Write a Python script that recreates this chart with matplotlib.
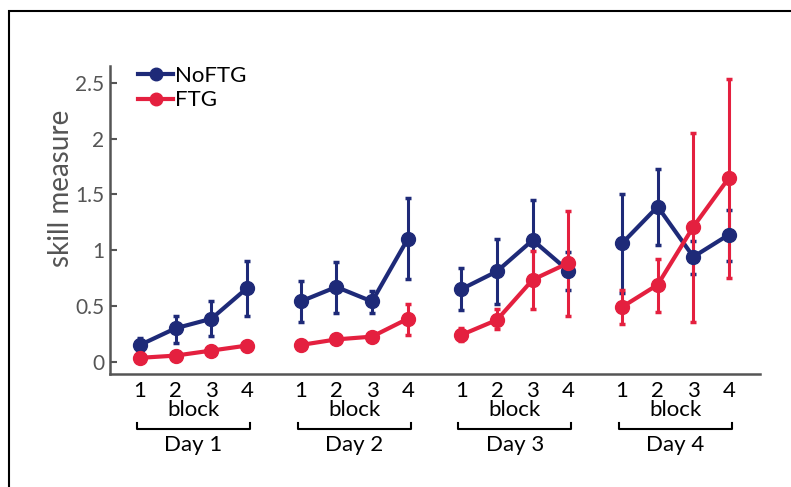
import numpy as np
import matplotlib
matplotlib.use('Agg')
import matplotlib.pyplot as plt
import matplotlib.transforms as mtransforms
from matplotlib.patches import Rectangle
from matplotlib.lines import Line2D

plt.rcParams['font.family'] = ['Lato', 'DejaVu Sans']

## data
days = ['Day 1', 'Day 2', 'Day 3', 'Day 4']
blocks = [1, 2, 3, 4]

noftg = [0.15, 0.30, 0.385, 0.66,
         0.54, 0.67, 0.54, 1.10,
         0.65, 0.81, 1.09, 0.815,
         1.06, 1.39, 0.94, 1.14]
noftg_lo = [0.09, 0.17, 0.23, 0.41,
            0.36, 0.44, 0.44, 0.74,
            0.46, 0.52, 0.74, 0.64,
            0.62, 1.05, 0.79, 0.905]
noftg_hi = [0.215, 0.41, 0.54, 0.90,
            0.72, 0.89, 0.63, 1.47,
            0.84, 1.10, 1.45, 0.985,
            1.50, 1.73, 1.085, 1.36]

ftg = [0.035, 0.055, 0.10, 0.145,
       0.15, 0.20, 0.225, 0.385,
       0.24, 0.375, 0.735, 0.885,
       0.49, 0.69, 1.21, 1.65]
ftg_lo = [0.02, 0.04, 0.08, 0.13,
          0.13, 0.18, 0.21, 0.24,
          0.19, 0.29, 0.475, 0.41,
          0.34, 0.45, 0.36, 0.75]
ftg_hi = [0.05, 0.07, 0.12, 0.16,
          0.17, 0.22, 0.24, 0.52,
          0.30, 0.47, 0.995, 1.35,
          0.645, 0.92, 2.05, 2.53]

yticks = [0, 0.5, 1, 1.5, 2, 2.5]
ytick_labels = ['0', '0.5', '1', '1.5', '2', '2.5']

blue = '#1e2a78'
red = '#e4203f'
gray = '#555555'

# x positions: 4 blocks per day, gap between days
day_gap = 4.5
X = np.array([b + d * day_gap for d in range(len(days)) for b in blocks], dtype=float)

fig = plt.figure(figsize=(7.91, 4.87), dpi=100)
ax = fig.add_axes([0.139, 0.232, 0.822, 0.6325])

# frame around the figure (only top/left visible in the original)
fig.patches.append(Rectangle((9 / 791, -0.5), 2, 0.5 + (1 - 11 / 487), transform=fig.transFigure,
                             fill=False, edgecolor='black', lw=1.5, clip_on=False))

def draw(vals, lo, hi, color):
    vals, lo, hi = np.array(vals), np.array(lo), np.array(hi)
    for d in range(len(days)):
        s = slice(d * 4, d * 4 + 4)
        ax.errorbar(X[s], vals[s], yerr=[vals[s] - lo[s], hi[s] - vals[s]],
                    color=color, lw=3, elinewidth=2.2, capsize=2.3, capthick=2.5,
                    marker='o', ms=10, mec=color)

draw(noftg, noftg_lo, noftg_hi, blue)
draw(ftg, ftg_lo, ftg_hi, red)

ax.set_xlim(0.16, 18.37)
ax.set_ylim(-0.11, 2.65)
ax.set_yticks(yticks)
ax.set_yticklabels(ytick_labels)
ax.tick_params(axis='y', direction='in', length=5, width=1.5, color=gray, labelcolor=gray, labelsize=15, pad=4)
ax.set_xticks(X)
ax.set_xticklabels([str(b) for d in days for b in blocks])
ax.tick_params(axis='x', length=0, labelsize=16, pad=5)
for s in ['top', 'right']:
    ax.spines[s].set_visible(False)
for s in ['left', 'bottom']:
    ax.spines[s].set_color(gray)
    ax.spines[s].set_linewidth(1.8)
ax.set_ylabel('skill measure', color=gray, fontsize=20)
ax.yaxis.set_label_coords(-0.056, 0.604)

# block labels and day brackets
trans = mtransforms.blended_transform_factory(ax.transData, ax.transAxes)
for d, day in enumerate(days):
    x0 = blocks[0] + d * day_gap - 0.08
    x1 = blocks[-1] + d * day_gap + 0.08
    xc = (x0 + x1) / 2
    ax.text(xc, -0.116, 'block', transform=trans, ha='center', va='center', fontsize=16)
    ax.plot([x0, x0, x1, x1], [-0.16, -0.178, -0.178, -0.16], transform=trans,
            color='black', lw=1.5, clip_on=False)
    ax.text(xc, -0.23, day, transform=trans, ha='center', va='center', fontsize=16)

handles = [Line2D([], [], color=blue, lw=3, marker='o', ms=9, mec=blue),
           Line2D([], [], color=red, lw=3, marker='o', ms=9, mec=red)]
ax.legend(handles, ['NoFTG', 'FTG'], loc='upper left', bbox_to_anchor=(0.043, 1.0),
          frameon=False, fontsize=16, handlelength=1.6, handletextpad=0.05,
          labelspacing=0.2, borderaxespad=0, borderpad=0)

fig.savefig('out.png', dpi=100)
